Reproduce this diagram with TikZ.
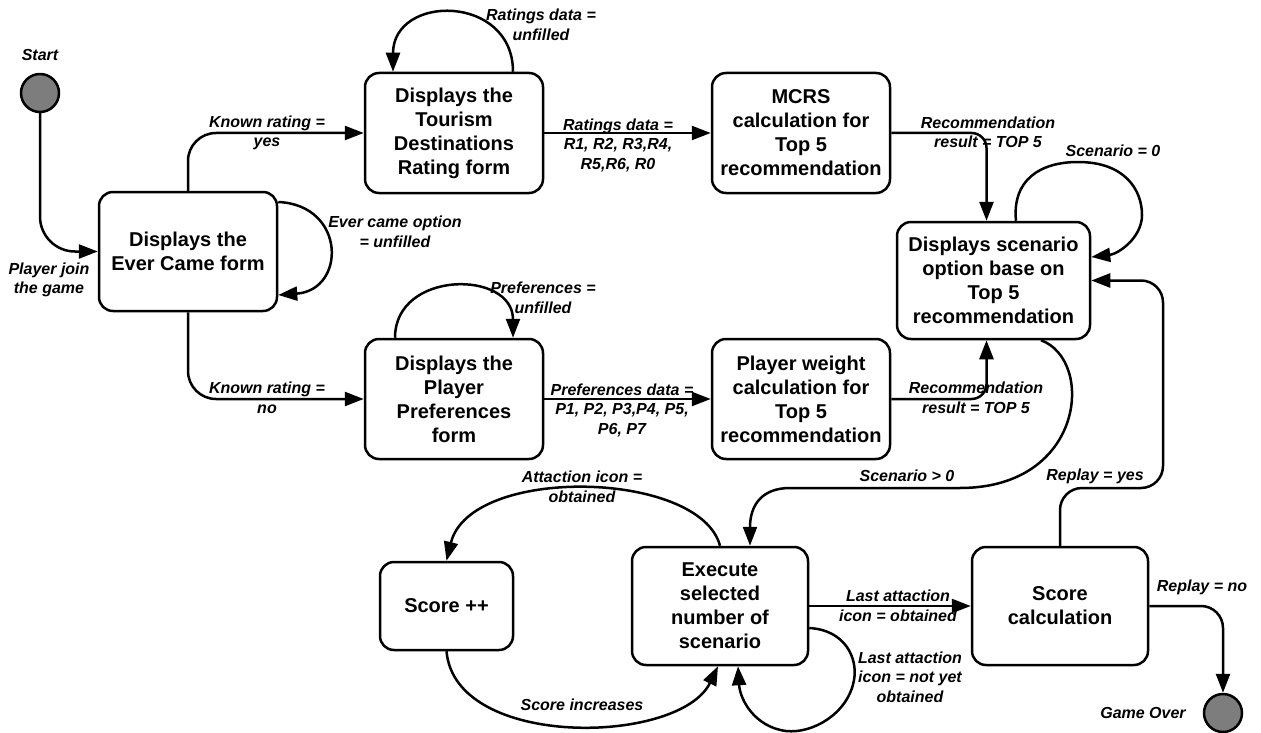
\documentclass[tikz,border=0pt]{standalone}
\usepackage{fontspec}
\setmainfont{Liberation Sans}
\usetikzlibrary{arrows.meta,calc}
\definecolor{dotgray}{RGB}{125,125,125}
\begin{document}
\begin{tikzpicture}[x=1pt,y=-1pt,line width=2.5pt,line join=round,
  state/.style={draw,line width=2.5pt,rounded corners=14pt,align=center,inner sep=0pt,
    font=\bfseries\fontsize{20}{24}\selectfont},
  boxsize/.style 2 args={minimum width=#1pt,minimum height=#2pt},
  lbl/.style={align=center,inner sep=0pt,font=\bfseries\itshape\fontsize{16}{19.5}\selectfont},
  arr/.style={-{Triangle[length=19pt,width=14pt]},line width=2.5pt},
  pseudo/.style={circle,draw,fill=dotgray,minimum size=38pt,inner sep=0pt,line width=2.5pt}]
\useasboundingbox (0,0) rectangle (1261,733);

% start / end pseudo states
\node[pseudo] (start) at (40,93) {};
\node[pseudo] (go) at (1223,713) {};

% states
\node[state,boxsize={178}{119}] (ever) at (188,251.5) {Displays the\\Ever Came form};
\node[state,boxsize={178}{120}] (tour) at (454,133) {Displays the\\Tourism\\Destinations\\Rating form};
\node[state,boxsize={178}{120}] (mcrs) at (801,133) {MCRS\\calculation for\\Top 5\\recommendation};
\node[state,boxsize={193}{117}] (scen) at (993.5,280.5) {Displays scenario\\option base on\\Top 5\\recommendation};
\node[state,boxsize={178}{120}] (pref) at (454,399) {Displays the\\Player\\Preferences\\form};
\node[state,boxsize={178}{120}] (pw) at (801,399) {Player weight\\calculation for\\Top 5\\recommendation};
\node[state,boxsize={133}{88}] (score) at (446.5,606) {Score ++};
\node[state,boxsize={176}{118}] (exec) at (720,606) {Execute\\selected\\number of\\scenario};
\node[state,boxsize={176}{118}] (scalc) at (1060,606) {Score\\calculation};

% transitions
\draw[arr,rounded corners=35pt] (start.south) |- (ever.west);
\draw[arr,rounded corners=28pt] (ever.north) |- (tour.west);
\draw[arr,rounded corners=28pt] (ever.south) |- (pref.west);
\draw[arr] ($(ever.east)+(0,-49.5)$) .. controls +(68,3) and +(68,-5) .. ($(ever.east)+(0,43.5)$);
\draw[arr] ($(tour.north)+(59,0)$) .. controls +(0,-78) and +(0,-78) .. ($(tour.north)+(-61,0)$);
\draw[arr] (tour.east) -- (mcrs.west);
\draw[arr,rounded corners=15pt] (mcrs.east) -| ($(scen.north)+(-7,0)$);
\draw[arr] ($(scen.north)+(22.5,0)$) .. controls (1012,180) and (1040,162) .. (1078,162)
  .. controls (1125,162) and (1142,190) .. (1142,215)
  .. controls (1142,238) and (1118,254) .. ($(scen.east)+(0,-23.5)$);
\coordinate (ry) at (1163,488);
\draw[arr,rounded corners=22pt] (scalc.north) |- (ry) |- (scen.east);
\draw[arr] ($(pref.north)+(-59,0)$) .. controls +(0,-68) and +(0,-68) .. ($(pref.north)+(59,0)$);
\draw[arr] (pref.east) -- (pw.west);
\draw[arr,rounded corners=15pt] (pw.east) -| ($(scen.south)+(-7,0)$);
\draw[arr] ($(scen.south)+(47.5,0)$) .. controls (1095,360) and (1085,488) .. (960,488)
  -- (790,488) .. controls (762,488) and (750,505) .. ($(exec.north)+(30,0)$);
\draw[arr] (exec.north) .. controls (700,470) and (470,465) .. (score.north);
\draw[arr] (score.south) .. controls (455,750) and (680,745) .. ($(exec.south)+(-2,0)$);
\draw[arr] ($(exec.east)+(0,22)$) .. controls (845,630) and (858,658) .. (854,680)
  .. controls (848,714) and (812,734) .. (786,731)
  .. controls (755,727) and (740,700) .. ($(exec.south)+(18,0)$);
\draw[arr] (exec.east) -- (scalc.west);
\draw[arr,rounded corners=22pt] (scalc.east) -| (go.north);

% labels
\node[lbl] (lstart) at (40,55) {Start};
\node[lbl] (lgo) at (1143,713) {Game Over};
\node[lbl] (ljoin) at (49,280) {Player join\\the game};
\node[lbl] (lkyes) at (267,133) {Known rating =\\yes};
\node[lbl] (lkno) at (267,398) {Known rating =\\no};
\node[lbl] (lever) at (395,232) {Ever came option\\= unfilled};
\node[lbl] (lrun) at (541,25) {Ratings data =\\unfilled};
\node[lbl] (lrdata) at (618,145) {Ratings data =\\R1, R2, R3,R4,\\R5,R6, R0};
\node[lbl] (lrec1) at (988,132.5) {Recommendation\\result = TOP 5};
\node[lbl] (lsc0) at (1113,151) {Scenario = 0};
\node[lbl] (lpun) at (543,298) {Preferences =\\unfilled};
\node[lbl] (lpdata) at (622,410) {Preferences data =\\P1, P2, P3,P4, P5,\\P6, P7};
\node[lbl] (lrec2) at (976,398) {Recommendation\\result = TOP 5};
\node[lbl] (lattn) at (582,487) {Attaction icon =\\obtained};
\node[lbl] (lsinc) at (582,705) {Score increases};
\node[lbl] (lscg) at (907,476) {Scenario > 0};
\node[lbl] (lryes) at (1095,476) {Replay = yes};
\node[lbl] (llast) at (898,606) {Last attaction\\icon = obtained};
\node[lbl] (lnyet) at (910,677) {Last attaction\\icon = not yet\\obtained};
\node[lbl] (lrno) at (1202,587) {Replay = no};
\end{tikzpicture}
\end{document}
